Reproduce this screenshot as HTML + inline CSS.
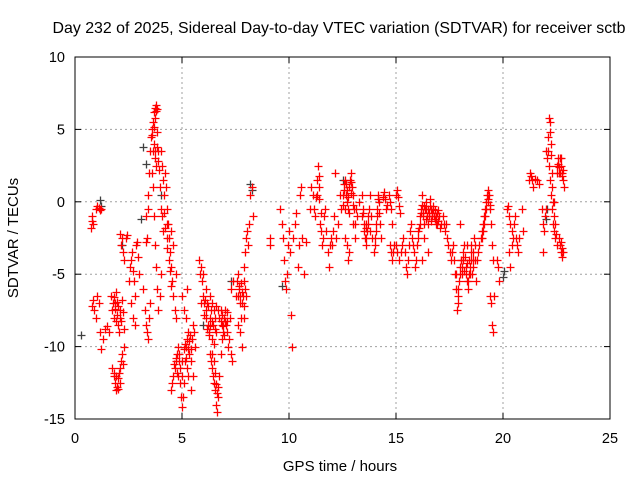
<!DOCTYPE html>
<html><head><meta charset="utf-8"><style>
html,body{margin:0;padding:0;background:#fff;}
svg{display:block;font-family:"Liberation Sans",Arial,sans-serif;}
</style></head><body>
<svg id="chart" width="640" height="480" viewBox="0 0 640 480" xmlns="http://www.w3.org/2000/svg">
<rect width="640" height="480" fill="#fff"/>
<text x="339" y="33" font-size="15.9" text-anchor="middle" fill="#000">Day 232 of 2025, Sidereal Day-to-day VTEC variation (SDTVAR) for receiver sctb</text>
<g id="grid"></g>
<g id="axes"></g>
<g id="marks"></g>
<text transform="translate(18,238) rotate(-90)" font-size="15" text-anchor="middle">SDTVAR / TECUs</text>
<text x="340" y="471" font-size="15" text-anchor="middle">GPS time / hours</text>
</svg>
<script>
const xTicks=[0,5,10,15,20,25];
const yTicks=[10,5,0,-5,-10,-15];
const grayPoints=[[0.3,-9.2],[1.15,0.1],[1.2,-0.3],[3.2,3.8],[3.3,2.6],[3.1,-1.2],[8.2,1.2],[8.25,0.8],[9.65,-5.8],[20.0,-5.2],[20.05,-4.8],[22.0,-1.2],[22.05,-0.5],[2.2,-3.0],[4.0,0.5],[7.3,-5.5],[6.0,-8.5],[12.5,1.5]];
const redPoints=[
[0.75,-1.8],[0.78,-1.3],[0.8,-1.0],[0.82,-1.5],
[1.0,-0.5],[1.05,-0.3],[1.1,-0.4],[1.15,-0.6],[1.2,-0.5],
[0.8,-7.2],[0.85,-6.8],[0.9,-7.5],[1.0,-8.0],[1.05,-6.5],[1.1,-7.0],[1.15,-9.0],[1.2,-10.2],[1.3,-9.5],[1.4,-8.8],[1.5,-8.6],[1.6,-9.0],
[1.7,-6.5],[1.75,-7.5],[1.8,-8.0],[1.85,-7.0],[1.9,-6.2],[1.95,-7.8],[2.0,-8.5],[2.05,-9.0],[2.1,-7.5],[2.15,-8.2],[2.2,-6.8],[2.25,-7.6],[2.3,-8.8],
[1.75,-11.5],[1.8,-12.0],[1.85,-12.5],[1.9,-13.0],[1.95,-12.8],[2.0,-12.2],[2.05,-11.8],[2.1,-12.5],[2.15,-11.0],[2.2,-10.5],[2.25,-11.2],[2.3,-10.0],
[2.1,-2.2],[2.15,-3.0],[2.2,-2.5],[2.25,-3.5],[2.3,-4.0],[2.4,-2.5],[2.45,-2.3],
[2.5,-5.5],[2.55,-4.5],[2.6,-4.0],[2.65,-3.5],[2.7,-4.8],[2.75,-5.5],[2.8,-6.5],[2.85,-3.0],[2.9,-2.8],[2.95,-3.8],[3.0,-5.0],[2.6,-7.0],[2.7,-8.0],[2.8,-8.5],
[3.2,-6.0],[3.25,-7.5],[3.3,-8.5],[3.35,-9.0],[3.4,-9.5],[3.45,-8.0],[3.5,-7.0],[3.3,-2.8],[3.35,-2.5],[3.3,-1.0],[3.4,-0.5],
[3.4,0.5],[3.45,2.0],[3.5,3.5],[3.55,4.5],[3.6,5.0],[3.65,5.5],[3.7,6.2],[3.75,6.5],[3.8,6.7],[3.85,6.4],[3.7,4.0],[3.75,3.5],[3.8,2.5],[3.85,4.8],[3.9,3.5],[3.6,2.0],[3.65,1.0],[3.7,-1.0],[3.75,-3.0],[3.8,-4.5],[3.85,-6.0],[3.9,-7.5],[3.95,-6.5],[4.0,-5.0],
[4.0,3.5],[4.05,2.5],[4.1,1.5],[4.15,0.5],[4.2,2.0],[4.25,1.0],[4.3,-0.5],[4.35,-1.5],[4.4,-2.5],[4.45,-3.5],[4.5,-4.5],[4.55,-5.5],[4.6,-6.5],[4.65,-7.5],[4.7,-8.0],[4.3,-1.5],[4.5,-2.0],[4.6,-3.0],[4.7,-5.0],
[4.5,-13.0],[4.55,-12.5],[4.6,-12.0],[4.65,-11.5],[4.7,-11.0],[4.75,-10.5],[4.8,-10.0],[4.85,-11.0],[4.9,-12.5],[4.95,-13.5],[5.0,-14.2],[5.05,-13.5],[5.1,-12.5],[5.15,-11.0],[5.2,-10.0],[5.25,-9.5],[5.3,-9.0],[5.35,-10.5],[5.4,-11.0],[5.45,-9.5],[5.5,-8.5],[5.55,-9.0],[5.6,-10.0],[5.5,-12.0],[5.4,-13.0],[5.3,-12.0],[5.2,-8.0],[5.1,-7.5],[5.0,-6.5],[5.25,-6.0],
[5.8,-4.0],[5.85,-5.0],[5.9,-4.5],[5.95,-5.5],[6.0,-6.5],[6.05,-7.0],[6.1,-8.0],[6.15,-7.0],[6.2,-8.5],[6.25,-9.0],[6.3,-8.0],[6.35,-7.5],[6.4,-9.5],[6.45,-8.5],[6.5,-7.5],[6.55,-8.0],[6.6,-9.0],[6.0,-5.0],[6.1,-6.0],[6.3,-6.5],[5.9,-7.0],
[6.3,-10.5],[6.35,-11.0],[6.4,-11.5],[6.45,-12.0],[6.5,-12.5],[6.55,-13.0],[6.6,-14.0],[6.65,-14.5],[6.7,-13.5],[6.75,-12.0],[6.8,-10.5],[6.85,-9.5],
[6.7,-7.5],[6.75,-8.0],[6.8,-7.5],[6.85,-8.5],[6.9,-9.0],[6.95,-8.0],[7.0,-7.5],[7.05,-8.5],[7.1,-9.0],[7.15,-10.0],[7.2,-9.5],[7.25,-8.0],[7.3,-10.5],[7.35,-11.0],[7.3,-6.0],[7.4,-5.5],
[7.5,-6.5],[7.55,-5.5],[7.6,-5.0],[7.65,-6.0],[7.7,-7.0],[7.75,-8.0],[7.8,-7.0],[7.85,-6.5],[7.9,-5.5],[7.95,-6.0],[7.6,-8.5],[7.7,-9.0],[7.8,-10.0],[7.9,-8.0],[8.0,-6.5],
[7.9,-4.5],[7.95,-3.5],[8.0,-2.5],[8.05,-2.0],[8.1,-3.0],[8.15,-1.5],[8.2,0.5],[8.25,1.0],[8.3,-1.0],
[9.1,-2.5],[9.1,-3.0],
[9.6,-0.5],[9.65,-1.5],[9.7,-2.5],[9.75,-4.0],[9.8,-5.5],[9.85,-6.0],[9.9,-5.0],[9.95,-3.0],[10.0,-2.0],[10.05,-3.5],[10.1,-7.8],[10.15,-10.0],[10.2,-2.5],[10.3,-1.5],[10.35,-0.8],[10.4,-4.5],[10.45,-3.0],[10.5,0.5],[10.55,1.0],[10.6,-2.5],[10.7,-5.0],[10.8,-2.8],
[11.0,-0.5],[11.05,1.0],[11.1,0.5],[11.15,-0.5],[11.2,-1.0],[11.25,0.3],[11.3,1.5],[11.35,2.5],[11.4,1.0],[11.45,-1.5],[11.5,-2.0],[11.55,-3.0],[11.6,-2.5],[11.65,-1.0],[11.7,-0.5],[11.75,-2.0],[11.8,-3.5],[11.85,-4.5],[11.9,-3.0],[11.95,-2.5],[12.0,-3.0],[12.05,-2.0],[12.1,-1.0],[12.15,2.0],[12.2,-2.5],[12.3,-1.5],
[12.4,0.5],[12.45,-0.5],[12.5,0.5],[12.55,1.2],[12.6,1.5],[12.65,0.5],[12.7,0.0],[12.75,-0.5],[12.8,1.0],[12.85,1.5],[12.9,2.0],[12.95,1.0],[13.0,0.5],[13.05,-0.5],[13.1,-1.5],[13.15,-0.5],[13.2,-1.0],[13.25,0.0],[12.6,-2.5],[12.7,-3.0],[12.75,-4.0],[12.8,-3.5],[13.0,-1.5],[13.1,-2.5],
[13.4,0.5],[13.45,-0.5],[13.5,-1.5],[13.55,-2.5],[13.6,-3.0],[13.65,-2.0],[13.7,-1.0],[13.75,-0.5],[13.8,0.5],[13.85,-1.0],[13.9,-2.5],[13.95,-3.5],[14.0,-3.0],[14.05,-2.0],[14.1,-1.0],[14.15,0.5],[14.2,0.0],[14.25,-1.5],[14.3,-2.5],[13.6,-1.5],[13.8,-2.0],
[14.4,0.3],[14.45,0.7],[14.5,0.2],[14.55,-0.5],[14.6,-0.2],[14.65,0.5],[14.7,0.0],[14.75,-0.5],[14.8,-1.5],[14.7,-3.0],[14.75,-3.5],[14.8,-4.0],[14.85,-3.5],[14.9,-3.0],
[15.0,0.5],[15.05,0.8],[15.1,0.3],[15.15,-0.3],[15.2,-0.8],[15.0,-3.0],[15.05,-3.5],[15.15,-4.0],[15.25,-3.5],[15.3,-3.0],[15.35,-2.5],[15.4,-3.5],[15.45,-4.5],[15.5,-5.0],[15.55,-4.0],[15.6,-3.0],
[15.65,-2.0],[15.7,-1.5],[15.75,-2.5],[15.8,-3.0],[15.85,-3.5],[15.9,-4.5],[15.95,-4.0],[16.0,-3.0],[16.05,-2.0],[16.1,-1.5],[16.15,-0.5],[16.2,0.5],[16.25,-1.0],[16.3,-1.5],[16.35,-0.5],[16.4,0.0],[16.45,-1.0],[16.5,-1.5],[16.55,-0.8],[16.6,0.2],[16.65,-0.5],[16.7,-1.0],[16.75,-0.5],[16.8,-1.2],[16.85,-1.5],[16.9,-0.8],[16.95,-1.3],[17.0,-1.0],[17.05,-1.8],[17.1,-1.5],[16.3,-2.5],[16.5,-3.5],[16.2,-4.0],
[17.2,-1.0],[17.25,-1.5],[17.3,-2.0],[17.35,-1.5],[17.4,-2.5],[17.45,-3.0],[17.5,-3.5],[17.55,-4.0],[17.6,-3.5],[17.65,-3.0],[17.7,-4.0],[17.75,-5.0],[17.8,-6.0],[17.85,-7.5],[17.9,-7.0],[17.95,-5.5],[18.0,-4.5],[18.05,-4.0],[18.1,-5.0],[18.15,-4.0],[18.2,-3.0],[18.25,-4.5],[18.3,-5.5],[18.35,-6.0],[18.4,-5.0],[18.45,-4.5],[18.5,-4.0],[18.55,-5.0],[18.6,-3.5],[18.65,-2.5],[18.7,-4.0],[18.75,-5.5],[18.3,-3.0],[18.0,-1.5],[18.5,-3.0],
[18.8,-4.0],[18.85,-3.5],[18.9,-3.0],[18.95,-2.5],[19.0,-2.0],[19.05,-1.5],[19.1,-1.0],[19.15,-0.5],[19.2,0.0],[19.25,0.5],[19.3,0.8],[19.35,0.5],[19.4,-0.5],[19.45,-1.5],[19.5,-3.0],[19.55,-4.0],[19.4,-6.5],[19.45,-7.0],[19.5,-8.5],[19.55,-9.0],[19.6,-6.5],[19.7,-4.0],[19.75,-4.5],[19.8,-5.5],
[20.2,-0.5],[20.25,-0.3],[20.3,-1.0],[20.35,-1.5],[20.4,-2.0],[20.45,-2.5],[20.5,-1.5],[20.55,-1.0],[20.6,-2.5],[20.65,-3.0],[20.7,-3.5],[20.75,-2.5],[20.3,-3.5],[20.35,-4.5],[20.4,-3.0],[20.9,-0.5],[20.95,-2.0],
[21.2,1.5],[21.25,2.0],[21.3,1.8],[21.35,1.5],[21.4,1.0],[21.5,1.6],[21.6,1.5],[21.7,1.2],[21.8,-0.5],[21.85,-1.5],[21.9,-2.0],[21.95,-1.0],[22.0,-0.5],[21.85,-3.5],
[22.0,3.5],[22.05,3.0],[22.1,4.5],[22.15,5.8],[22.2,5.5],[22.25,4.0],[22.15,2.5],[22.2,1.5],[22.25,0.5],[22.3,-0.5],[22.35,-1.5],[22.4,-2.0],[22.45,-2.5],[22.5,-3.0],[22.3,1.0],[22.4,0.0],
[22.5,2.5],[22.55,3.0],[22.6,2.0],[22.65,3.0],[22.7,2.5],[22.75,2.0],[22.8,1.5],[22.85,1.0],[22.6,-2.5],[22.65,-3.0],[22.7,-3.5],[22.75,-3.8],[22.8,-3.5]
];
const redPointsExtra=[
[1.78,-7.0],[1.82,-6.6],[1.88,-7.4],[1.92,-8.2],[1.98,-6.9],[2.02,-7.2],[2.08,-8.0],[1.83,-11.8],[1.93,-12.0],[2.03,-12.9],[2.12,-11.5],
[3.62,4.6],[3.68,5.2],[3.72,5.8],[3.78,6.3],[3.66,3.5],[3.72,3.0],[3.82,3.8],[3.88,2.8],[3.92,2.2],[3.98,1.0],[4.02,-0.5],[4.08,-1.0],[4.12,-2.0],[4.18,-0.8],[4.22,-1.8],[4.28,-2.5],[4.32,-3.2],[4.38,-4.0],[4.42,-4.8],[4.48,-5.8],
[4.62,-11.2],[4.72,-10.8],[4.78,-11.8],[4.82,-12.0],[4.88,-10.5],[4.92,-11.5],[4.98,-12.0],[5.02,-11.0],[5.08,-10.2],[5.12,-9.8],[5.18,-10.8],[5.22,-11.5],[5.28,-10.2],[5.32,-9.6],[5.38,-9.2],[5.42,-10.2],
[6.02,-7.8],[6.08,-6.8],[6.12,-7.5],[6.18,-8.8],[6.22,-7.2],[6.28,-9.2],[6.32,-8.6],[6.38,-8.2],[6.42,-7.0],[6.48,-9.8],[6.52,-8.8],[6.58,-7.2],[6.42,-10.5],[6.48,-11.0],[6.52,-11.8],[6.58,-12.6],[6.62,-13.2],[6.68,-12.8],
[6.82,-8.2],[6.88,-7.8],[6.92,-8.6],[6.98,-9.2],[7.02,-8.2],[7.08,-7.6],[7.12,-8.2],[7.62,-6.5],[7.68,-5.8],[7.72,-6.5],[7.78,-5.6],[7.82,-6.2],[7.88,-7.2],
[11.32,0.5],[11.38,1.8],[11.42,0.2],[11.48,-0.8],[12.52,-0.2],[12.58,0.8],[12.62,-0.5],[12.68,1.2],[12.72,0.8],[12.78,0.3],[12.82,-0.8],[12.88,0.6],[12.92,1.4],[12.98,-0.2],
[13.42,-1.0],[13.48,-0.8],[13.52,-2.0],[13.58,-1.8],[13.62,-2.5],[13.68,-1.5],[14.02,-2.5],[14.08,-1.5],[14.12,-0.5],[14.18,0.2],[14.22,-0.8],
[16.02,-2.5],[16.08,-1.8],[16.12,-1.0],[16.18,-0.8],[16.22,-0.2],[16.28,-0.8],[16.32,-0.3],[16.38,-1.2],[16.42,-0.5],[16.48,-0.5],[16.52,-1.0],[16.58,-0.3],[16.62,-1.3],[16.68,-0.8],[16.72,-0.3],[16.78,-1.0],[16.82,-0.6],[16.88,-1.0],[16.92,-1.5],[16.98,-0.6],
[17.82,-5.0],[17.88,-6.5],[17.92,-6.0],[17.98,-5.0],[18.02,-4.0],[18.08,-4.5],[18.12,-3.5],[18.18,-4.8],[18.22,-3.8],[18.28,-5.0],[18.32,-4.2],[18.38,-5.5],[18.42,-4.0],[18.48,-5.0],[18.52,-3.5],[18.58,-4.5],[18.62,-4.0],[18.68,-3.0],
[19.02,-2.5],[19.08,-2.0],[19.12,-1.5],[19.18,-1.0],[19.22,-0.5],[19.28,0.0],[19.32,0.2],[19.38,-0.2],
[22.12,3.5],[22.18,4.8],[22.22,3.2],[22.28,2.0],[22.32,0.0],[22.38,-1.0],[22.42,-1.5],[22.48,-2.2],[22.52,2.0],[22.58,2.6],[22.62,2.4],[22.68,2.0],[22.72,3.0],[22.78,1.8],[22.82,2.2],[22.72,-2.8],[22.78,-3.2]
];
const X0=75,X1=610,Y0=57,Y1=419,XMIN=0,XMAX=25,YMIN=-15,YMAX=10;
function xs(t){return X0+(t-XMIN)/(XMAX-XMIN)*(X1-X0);}
function ys(v){return Y1-(v-YMIN)/(YMAX-YMIN)*(Y1-Y0);}
const NS="http://www.w3.org/2000/svg";
function mk(tag,attrs,parent){const e=document.createElementNS(NS,tag);for(const k in attrs)e.setAttribute(k,attrs[k]);parent.appendChild(e);return e;}
const grid=document.getElementById('grid'),axes=document.getElementById('axes'),marks=document.getElementById('marks');
xTicks.forEach(t=>{const x=xs(t);
 if(t>XMIN&&t<XMAX){const g=mk('line',{x1:x,y1:Y0,x2:x,y2:Y1,stroke:'#a0a0a0','stroke-dasharray':'2,3','stroke-width':1},grid);
  
  }
 mk('line',{x1:x,y1:Y1,x2:x,y2:Y1-6,stroke:'#000'},axes);
 mk('line',{x1:x,y1:Y0,x2:x,y2:Y0+6,stroke:'#000'},axes);
 const l=mk('text',{x:x,y:443,'font-size':14.5,'text-anchor':'middle'},axes);l.textContent=t;
 
 
});
yTicks.forEach(v=>{const y=ys(v);
 if(v>YMIN&&v<YMAX){const g=mk('line',{x1:X0,y1:y,x2:X1,y2:y,stroke:'#a0a0a0','stroke-dasharray':'2,3','stroke-width':1},grid);
  
  }
 mk('line',{x1:X0,y1:y,x2:X0+6,y2:y,stroke:'#000'},axes);
 mk('line',{x1:X1,y1:y,x2:X1-6,y2:y,stroke:'#000'},axes);
 const l=mk('text',{x:X0-10,y:y+5,'font-size':14.5,'text-anchor':'end'},axes);l.textContent=v;
 
 
});
const fr=mk('rect',{x:X0,y:Y0,width:X1-X0,height:Y1-Y0,fill:'none',stroke:'#000','stroke-width':1},axes);


function plus(p,color,name){const x=Math.round(xs(p[0]))+0.5,y=Math.round(ys(p[1]))+0.5;
 const e=mk('path',{d:`M${x-4},${y}H${x+4}M${x},${y-4}V${y+4}`,stroke:color,'stroke-width':1.3,fill:'none'},marks);
 
 }
grayPoints.forEach(p=>plus(p,'#404040','gray-point'));
redPoints.forEach(p=>plus(p,'#ff0000','red-point'));
redPointsExtra.forEach(p=>plus(p,'#ff0000','red-point'));
</script>
</body></html>
